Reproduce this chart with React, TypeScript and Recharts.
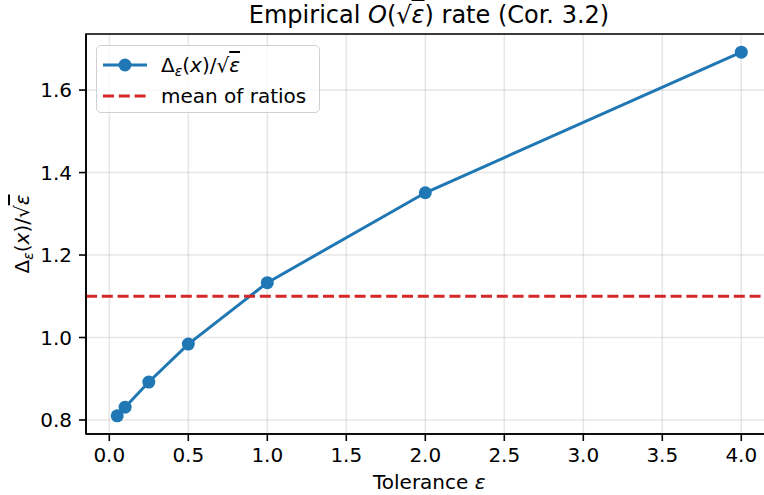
import {
  CartesianGrid,
  Line,
  LineChart,
  ReferenceArea,
  ReferenceLine,
  XAxis,
  YAxis,
} from 'recharts';

const tolerances = [0.05, 0.1, 0.25, 0.5, 1.0, 2.0, 4.0];
const ratios = [0.81, 0.831, 0.892, 0.984, 1.133, 1.351, 1.692];
const meanOfRatios = 1.1;
const xTicks = [0, 0.5, 1.0, 1.5, 2.0, 2.5, 3.0, 3.5, 4.0];
const yTicks = [0.8, 1.0, 1.2, 1.4, 1.6];
const xDomain = [-0.1475, 4.1975];
const yDomain = [0.766, 1.736];

const FONT = '"DejaVu Sans", sans-serif';
const BLUE = '#1f77b4';
const RED = '#d62728';

const data = tolerances.map((eps, i) => ({ eps, ratio: ratios[i] }));

function YLabel({ viewBox }: any) {
  const x = 29;
  const y = viewBox ? viewBox.y + viewBox.height / 2 : 234;
  return (
    <text
      x={x}
      y={y}
      transform={`rotate(-90, ${x}, ${y})`}
      textAnchor="middle"
      fontSize={20}
      fontFamily={FONT}
      fill="#000"
    >
      Δ
      <tspan fontSize={14} dy={4} fontStyle="italic">ε</tspan>
      <tspan dy={-4}>(</tspan>
      <tspan fontStyle="italic">x</tspan>
      <tspan>)/√</tspan>
      <tspan fontStyle="italic" style={{ textDecoration: 'overline' }}>ε</tspan>
    </text>
  );
}

function XLabel({ viewBox }: any) {
  const x = viewBox ? viewBox.x + viewBox.width / 2 : 429;
  const y = viewBox ? viewBox.y + 55 : 489;
  return (
    <text x={x} y={y} textAnchor="middle" fontSize={20} fontFamily={FONT} fill="#000">
      Tolerance <tspan fontStyle="italic">ε</tspan>
    </text>
  );
}

function LegendBox() {
  return (
    <div
      style={{
        position: 'absolute',
        left: 96,
        top: 45,
        width: 224,
        height: 68,
        boxSizing: 'border-box',
        border: '1.5px solid #d0d0d0',
        borderRadius: 5,
        background: 'rgba(255,255,255,0.8)',
        fontFamily: FONT,
        fontSize: 20,
        color: '#000',
      }}
    >
      <svg style={{ position: 'absolute', left: 5, top: 8 }} width={46} height={22}>
        <line x1={1} y1={11} x2={45} y2={11} stroke={BLUE} strokeWidth={3} />
        <circle cx={23} cy={11} r={6.5} fill={BLUE} />
      </svg>
      <div style={{ position: 'absolute', left: 64, top: 8.5, lineHeight: '20px', whiteSpace: 'nowrap' }}>
        Δ
        <span style={{ fontSize: 14, fontStyle: 'italic', position: 'relative', top: 4 }}>ε</span>
        (<i>x</i>)/√<i style={{ textDecoration: 'overline' }}>ε</i>
      </div>
      <svg style={{ position: 'absolute', left: 5, top: 39 }} width={46} height={22}>
        <line x1={1} y1={11} x2={45} y2={11} stroke={RED} strokeWidth={3} strokeDasharray="11 4.8" />
      </svg>
      <div style={{ position: 'absolute', left: 64, top: 39.5, lineHeight: '20px', whiteSpace: 'nowrap' }}>
        mean of ratios
      </div>
    </div>
  );
}

export default function App() {
  return (
    <div
      style={{
        position: 'fixed',
        left: 0,
        top: 0,
        width: 764,
        height: 495,
        overflow: 'hidden',
        background: '#fff',
        fontFamily: FONT,
      }}
    >
      <div
        style={{
          position: 'absolute',
          left: 129,
          top: 2.7,
          width: 600,
          textAlign: 'center',
          fontSize: 24,
          lineHeight: '24px',
          whiteSpace: 'nowrap',
        }}
      >
        Empirical <i>O</i>(√<i style={{ textDecoration: 'overline' }}>ε</i>) rate (Cor. 3.2)
      </div>
      <LineChart
        width={790}
        height={495}
        data={data}
        margin={{ top: 34, right: 17.5, left: 0, bottom: 0 }}
        style={{ fontFamily: FONT }}
      >
        <CartesianGrid stroke="#b0b0b0" strokeOpacity={0.3} strokeWidth={1.6} />
        <XAxis
          dataKey="eps"
          type="number"
          domain={xDomain}
          ticks={xTicks}
          allowDataOverflow
          height={61}
          tickSize={7}
          tickMargin={7}
          tickFormatter={(v: number) => v.toFixed(1)}
          tick={{ fill: '#000', fontSize: 20 }}
          axisLine={{ stroke: '#000', strokeWidth: 1.6 }}
          tickLine={{ stroke: '#000', strokeWidth: 1.6 }}
          label={<XLabel />}
        />
        <YAxis
          type="number"
          domain={yDomain}
          ticks={yTicks}
          allowDataOverflow
          width={86}
          tickSize={7}
          tickMargin={7}
          tickFormatter={(v: number) => v.toFixed(1)}
          tick={{ fill: '#000', fontSize: 20 }}
          axisLine={{ stroke: '#000', strokeWidth: 1.6 }}
          tickLine={{ stroke: '#000', strokeWidth: 1.6 }}
          label={<YLabel />}
        />
        <ReferenceArea
          x1={xDomain[0]}
          x2={xDomain[1]}
          y1={yDomain[0]}
          y2={yDomain[1]}
          fill="none"
          stroke="#000"
          strokeWidth={1.6}
          ifOverflow="visible"
        />
        <Line
          type="linear"
          dataKey="ratio"
          stroke={BLUE}
          strokeWidth={3}
          dot={{ r: 6.5, fill: BLUE, stroke: BLUE, strokeWidth: 0 }}
          activeDot={false}
          isAnimationActive={false}
        />
        <ReferenceLine y={meanOfRatios} stroke={RED} strokeWidth={3} strokeDasharray="11 4.8" />
      </LineChart>
      <LegendBox />
    </div>
  );
}
